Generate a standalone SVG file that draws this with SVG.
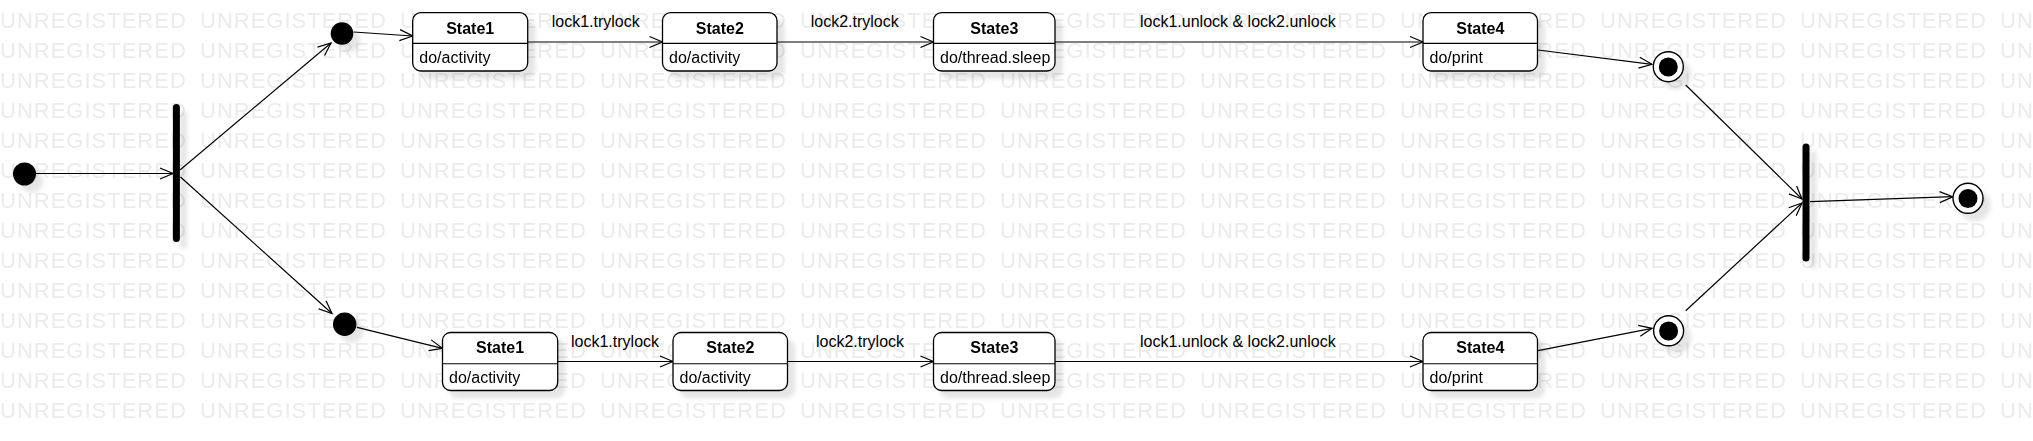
<svg xmlns="http://www.w3.org/2000/svg" width="2033" height="441" viewBox="0 0 2033 441">
<style>
.wm{font-family:"Liberation Sans",Arial,sans-serif;font-size:22px;fill:#ebebeb;letter-spacing:1px}
.box{fill:#fff;stroke:#000;stroke-width:1.3}
.div{stroke:#000;stroke-width:1.1}
.ttl{font-family:"Liberation Sans",Arial,sans-serif;font-size:16px;font-weight:bold;text-anchor:middle;fill:#000}
.body{font-family:"Liberation Sans",Arial,sans-serif;font-size:16px;fill:#000}
.lbl{font-family:"Liberation Sans",Arial,sans-serif;font-size:16px;fill:#000}
.edge{fill:none;stroke:#000;stroke-width:1.2;marker-end:url(#arr)}
.bar{stroke:#000;stroke-width:7;stroke-linecap:round}
.fin{fill:#fff;stroke:#000;stroke-width:1.4}
</style>
<defs>
<pattern id="wmp" x="0" y="0" width="200" height="30" patternUnits="userSpaceOnUse">
<text x="0" y="28" class="wm">UNREGISTERED</text>
</pattern>
<filter id="sh" filterUnits="userSpaceOnUse" x="0" y="0" width="2033" height="441">
<feGaussianBlur in="SourceAlpha" stdDeviation="2"/>
<feOffset dx="7" dy="7" result="b"/>
<feFlood flood-color="#000" flood-opacity="0.1"/>
<feComposite in2="b" operator="in"/>
<feMerge><feMergeNode/><feMergeNode in="SourceGraphic"/></feMerge>
</filter>
<marker id="arr" markerWidth="16" markerHeight="14" refX="14" refY="6" orient="auto" markerUnits="userSpaceOnUse" viewBox="0 0 16 12" overflow="visible">
<path d="M1,0.5 L14,6 L1,11.5" fill="none" stroke="#000" stroke-width="1.2"/>
</marker>
</defs>
<rect width="2033" height="441" fill="#fff"/>
<rect width="2033" height="420" fill="url(#wmp)"/>

<g id="connectors">
<line class="edge" x1="36" y1="173.5" x2="173" y2="173.5"/>
<line class="edge" x1="180" y1="170" x2="331" y2="43"/>
<line class="edge" x1="180.5" y1="177" x2="332" y2="313.5"/>
<line class="edge" x1="353.5" y1="32" x2="412.7" y2="36"/>
<line class="edge" x1="357" y1="327.3" x2="442.5" y2="348.3"/>
<line class="edge" x1="527.7" y1="42" x2="662.5" y2="42"/>
<line class="edge" x1="777" y1="42" x2="933.5" y2="42"/>
<line class="edge" x1="1055" y1="42" x2="1423" y2="42"/>
<line class="edge" x1="557.7" y1="361.5" x2="673" y2="361.5"/>
<line class="edge" x1="787.5" y1="361.5" x2="933.5" y2="361.5"/>
<line class="edge" x1="1055" y1="361.5" x2="1423" y2="361.5"/>
<line class="edge" x1="1538" y1="50" x2="1652" y2="64.3"/>
<line class="edge" x1="1538" y1="350.7" x2="1652" y2="328.3"/>
<line class="edge" x1="1685.7" y1="85" x2="1802" y2="199"/>
<line class="edge" x1="1685.7" y1="310.7" x2="1802" y2="203"/>
<line class="edge" x1="1810" y1="201.7" x2="1952.7" y2="196.7"/>
<text class="lbl" x="551.7" y="27">lock1.trylock</text>
<text class="lbl" x="810.7" y="27">lock2.trylock</text>
<text class="lbl" x="1140" y="27">lock1.unlock &amp; lock2.unlock</text>
<text class="lbl" x="571" y="347">lock1.trylock</text>
<text class="lbl" x="816" y="347">lock2.trylock</text>
<text class="lbl" x="1140" y="347">lock1.unlock &amp; lock2.unlock</text>
</g>

<g id="initial" filter="url(#sh)"><circle cx="24.5" cy="174" r="11.5" fill="#000"/></g>
<g id="fork" filter="url(#sh)"><line class="bar" x1="176.4" y1="107.5" x2="176.4" y2="238.5"/></g>
<g id="initTop" filter="url(#sh)"><circle cx="342" cy="33.5" r="11.3" fill="#000"/></g>
<g id="initBottom" filter="url(#sh)"><circle cx="344.7" cy="324.3" r="11.7" fill="#000"/></g>

<g id="topState1" filter="url(#sh)">
<rect class="box" x="412.7" y="12.7" width="115" height="58.3" rx="8"/>
<line class="div" x1="412.7" y1="43.4" x2="527.7" y2="43.4"/>
<text class="ttl" x="470.2" y="33.5">State1</text>
<text class="body" x="419.3" y="62.5">do/activity</text>
</g>
<g id="topState2" filter="url(#sh)">
<rect class="box" x="662.5" y="12.7" width="114.5" height="58.3" rx="8"/>
<line class="div" x1="662.5" y1="43.4" x2="777" y2="43.4"/>
<text class="ttl" x="719.8" y="33.5">State2</text>
<text class="body" x="669" y="62.5">do/activity</text>
</g>
<g id="topState3" filter="url(#sh)">
<rect class="box" x="933.5" y="12.7" width="121.5" height="58.3" rx="8"/>
<line class="div" x1="933.5" y1="43.4" x2="1055" y2="43.4"/>
<text class="ttl" x="994.3" y="33.5">State3</text>
<text class="body" x="940" y="62.5">do/thread.sleep</text>
</g>
<g id="topState4" filter="url(#sh)">
<rect class="box" x="1423" y="12.7" width="114.5" height="58.3" rx="8"/>
<line class="div" x1="1423" y1="43.4" x2="1537.5" y2="43.4"/>
<text class="ttl" x="1480.3" y="33.5">State4</text>
<text class="body" x="1429.5" y="62.5">do/print</text>
</g>

<g id="bottomState1" filter="url(#sh)">
<rect class="box" x="442.5" y="332.5" width="115.2" height="58" rx="8"/>
<line class="div" x1="442.5" y1="363.8" x2="557.7" y2="363.8"/>
<text class="ttl" x="500.1" y="353.3">State1</text>
<text class="body" x="449" y="382.5">do/activity</text>
</g>
<g id="bottomState2" filter="url(#sh)">
<rect class="box" x="673" y="332.5" width="114.5" height="58" rx="8"/>
<line class="div" x1="673" y1="363.8" x2="787.5" y2="363.8"/>
<text class="ttl" x="730.3" y="353.3">State2</text>
<text class="body" x="679.5" y="382.5">do/activity</text>
</g>
<g id="bottomState3" filter="url(#sh)">
<rect class="box" x="933.5" y="332.5" width="121.5" height="58" rx="8"/>
<line class="div" x1="933.5" y1="363.8" x2="1055" y2="363.8"/>
<text class="ttl" x="994.3" y="353.3">State3</text>
<text class="body" x="940" y="382.5">do/thread.sleep</text>
</g>
<g id="bottomState4" filter="url(#sh)">
<rect class="box" x="1423" y="332.5" width="114.5" height="58" rx="8"/>
<line class="div" x1="1423" y1="363.8" x2="1537.5" y2="363.8"/>
<text class="ttl" x="1480.3" y="353.3">State4</text>
<text class="body" x="1429.5" y="382.5">do/print</text>
</g>

<g id="finalTop" filter="url(#sh)"><circle class="fin" cx="1668.3" cy="66.7" r="15"/><circle cx="1668.3" cy="67" r="9.5" fill="#000"/></g>
<g id="finalBottom" filter="url(#sh)"><circle class="fin" cx="1668.6" cy="330.8" r="15"/><circle cx="1668.6" cy="331" r="9.5" fill="#000"/></g>
<g id="join" filter="url(#sh)"><line class="bar" x1="1806" y1="147" x2="1806" y2="258"/></g>
<g id="finalEnd" filter="url(#sh)"><circle class="fin" cx="1968" cy="198.3" r="15"/><circle cx="1968" cy="198.5" r="9.5" fill="#000"/></g>
</svg>
